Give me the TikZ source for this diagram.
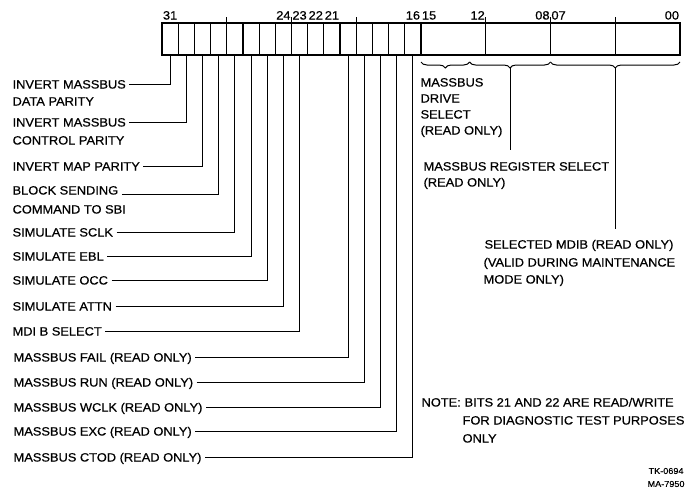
\documentclass[tikz,border=0pt]{standalone}
\usepackage{fontspec}
\setmainfont[FakeStretch=1.07,FakeBold=0.6]{Liberation Sans}
\usetikzlibrary{decorations.pathreplacing}
\newcommand{\bitw}{16.1875}
\tikzset{
	lbl/.style={anchor=west, inner xsep=3pt, inner ysep=2pt, text height=9pt, text depth=0pt},
	num/.style={inner sep=1pt, text height=9pt, text depth=0pt},
	refno/.style={anchor=west, inner sep=1pt, font=\fontsize{8.5}{10}\selectfont},
	lead/.style={line width=1pt},
	brc/.style={decorate, decoration={brace, mirror, amplitude=6pt}, line width=1pt}
}

\begin{document}
\begin{tikzpicture}[x=1pt,y=-1pt,line width=1.2pt,font=\fontsize{12}{17}\selectfont]
	\useasboundingbox (0,0) rectangle (686,493);
	\draw (162,23) rectangle (680,55);
	\foreach \k in {1,...,16}
		\draw ({162+\k*\bitw},23) -- ({162+\k*\bitw},55);
	\foreach \k in {20,24,28}
		\draw ({162+\k*\bitw},17) -- ({162+\k*\bitw},55);
	\foreach \k in {4,8,12}
		\draw ({162+\k*\bitw},23) -- ({162+\k*\bitw},17);
	\foreach \b/\t in {31/31,24/24,23/23,22/22,21/21,16/16,15/15,12/12,8/08,7/07,0/00}
		\node[num] (n\b) at ({162+(31.5-\b)*\bitw},15) {\t};
	\foreach \b in {31,...,16}
		\coordinate (b\b) at ({162+(31.5-\b)*\bitw},55);
	\node[lbl] (dpar) at (9,84) {INVERT MASSBUS};
	\node[lbl] (dpar2) at (9,101) {DATA PARITY};
	\node[lbl] (cpar) at (9,122) {INVERT MASSBUS};
	\node[lbl] (cpar2) at (9,140) {CONTROL PARITY};
	\node[lbl] (mpar) at (9,166) {INVERT MAP PARITY};
	\node[lbl] (blk) at (9,190) {BLOCK SENDING};
	\node[lbl] (blk2) at (9,209) {COMMAND TO SBI};
	\node[lbl] (sclk) at (9,232) {SIMULATE SCLK};
	\node[lbl] (ebl) at (9,256) {SIMULATE EBL};
	\node[lbl] (occ) at (9,280) {SIMULATE OCC};
	\node[lbl] (attn) at (9,306) {SIMULATE ATTN};
	\node[lbl] (mdib) at (9,331) {MDI B SELECT};
	\node[lbl] (fail) at (10,357) {MASSBUS FAIL (READ ONLY)};
	\node[lbl] (run) at (10,382) {MASSBUS RUN (READ ONLY)};
	\node[lbl] (wclk) at (10,407) {MASSBUS WCLK (READ ONLY)};
	\node[lbl] (exc) at (10,431) {MASSBUS EXC (READ ONLY)};
	\node[lbl] (ctod) at (10,457) {MASSBUS CTOD (READ ONLY)};
	\foreach \l/\a/\b in {dpar/east/31,cpar/east/30,mpar/east/29,blk/base east/28,sclk/east/27,ebl/east/26,occ/east/25,attn/east/24,mdib/east/23,fail/east/20,run/east/19,wclk/east/18,exc/east/17,ctod/east/16}
		\draw[lead] (\l.\a) -- (\l.\a -| b\b) -- (b\b);
	\draw[brc] ({162+16*\bitw},62) -- ({162+19*\bitw},62);
	\draw[brc] ({162+19*\bitw},62) -- ({162+24*\bitw},62);
	\draw[brc] ({162+24*\bitw},62) -- (680,62);
	\coordinate (regtip) at ({162+21.5*\bitw},68);
	\coordinate (mdtip) at ({(162+24*\bitw+680)/2},68);
	\node[lbl] (dsel) at (417,82) {MASSBUS};
	\node[lbl] (dsel2) at (417,98) {DRIVE};
	\node[lbl] (dsel3) at (417,114) {SELECT};
	\node[lbl] (dsel4) at (417,130) {(READ ONLY)};
	\node[lbl] (rsel) at (420,166) {MASSBUS REGISTER SELECT};
	\node[lbl] (rsel2) at (420,182) {(READ ONLY)};
	\node[lbl] (msel) at (481,244) {SELECTED MDIB (READ ONLY)};
	\node[lbl] (msel2) at (480,262) {(VALID DURING MAINTENANCE};
	\node[lbl] (msel3) at (480,279) {MODE ONLY)};
	\draw[lead, shorten >=9pt] (regtip) -- (regtip |- rsel.north);
	\draw[lead, shorten >=8pt] (mdtip) -- (mdtip |- msel.north);
	\node[lbl] (note) at (418,402) {NOTE:};
	\node[lbl] (note1) at (461,402) {BITS 21 AND 22 ARE READ/WRITE};
	\node[lbl] (note2) at (459,420) {FOR DIAGNOSTIC TEST PURPOSES};
	\node[lbl] (note3) at (459,438) {ONLY};
	\node[refno] (tk) at (647,471) {TK-0694};
	\node[refno] (ma) at (646,484) {MA-7950};
\end{tikzpicture}
\end{document}
